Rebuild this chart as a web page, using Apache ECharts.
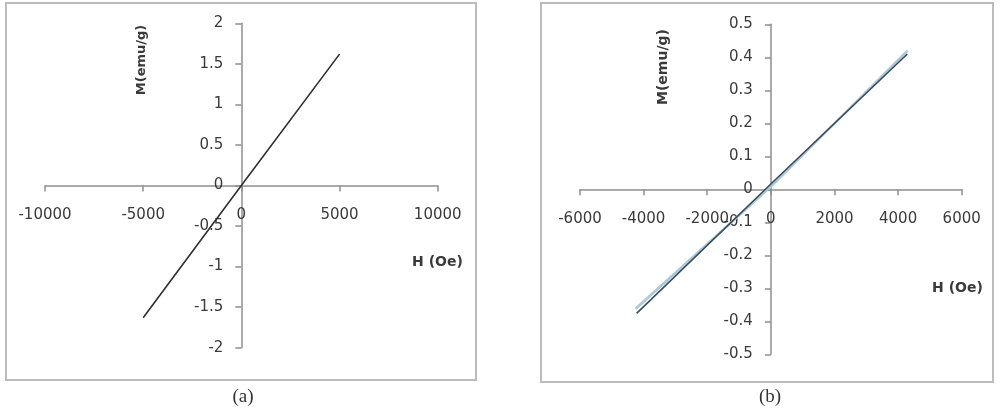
<!DOCTYPE html>
<html><head><meta charset="utf-8">
<script src="https://cdn.jsdelivr.net/npm/echarts@6/dist/echarts.min.js"></script>
<style>html,body{margin:0;padding:0;background:#fff}#c{width:1000px;height:412px}</style>
</head><body><div id="c"></div>
<script>
// Panel (a)
const aH = [-5000, 0, 5000];
const aM = [-1.63, 0.0, 1.62];
const aXTicks = [-10000, -5000, 0, 5000, 10000];
const aYTicks = [-2, -1.5, -1, -0.5, 0, 0.5, 1, 1.5, 2];
// Panel (b): two branches of the loop
const bH1 = [-4220, 0, 4290];
const bM1 = [-0.376, 0.016, 0.410];
const bH2 = [-4250, 0, 4300];
const bM2 = [-0.362, 0.008, 0.420];
const bXTicks = [-6000, -4000, -2000, 0, 2000, 4000, 6000];
const bYTicks = [-0.5, -0.4, -0.3, -0.2, -0.1, 0, 0.1, 0.2, 0.3, 0.4, 0.5];
const labels = {xName: 'H (Oe)', yName: 'M(emu/g)', capA: '(a)', capB: '(b)'};

const pair = (xs, ys) => xs.map((x, i) => [x, ys[i]]);
const axisCol = '#8f8f8f', txtCol = '#3a3a3a';
const font = 'DejaVu Sans';
const grids = [
  {left: 45, top: 23.3, width: 392.7, height: 324.4},
  {left: 580, top: 24.3, width: 381.7, height: 330}
];
// axes cross at zero; ranges are symmetric so zero sits at the grid centre
function xAxis(gi, ticks) {
  return {type: 'value', gridIndex: gi, position: 'bottom', offset: -grids[gi].height/2,
    min: ticks[0], max: ticks[ticks.length-1],
    interval: ticks[1]-ticks[0], splitLine: {show: false},
    axisLine: {onZero: false, lineStyle: {color: axisCol, width: 1.5}},
    axisTick: {show: true, length: 6, lineStyle: {color: axisCol, width: 1.5}},
    axisLabel: {margin: 22, color: txtCol, fontFamily: font, fontSize: 15, formatter: v => String(v)}};
}
function yAxis(gi, ticks) {
  return {type: 'value', gridIndex: gi, position: 'left', offset: -grids[gi].width/2,
    min: ticks[0], max: ticks[ticks.length-1],
    interval: ticks[1]-ticks[0], splitLine: {show: false},
    axisLine: {onZero: false, lineStyle: {color: axisCol, width: 1.5}},
    axisTick: {show: true, length: 6, lineStyle: {color: axisCol, width: 1.5}},
    axisLabel: {margin: 18, color: txtCol, fontFamily: font, fontSize: 15, formatter: v => String(+v.toFixed(1))}};
}
const chart = echarts.init(document.getElementById('c'), null, {renderer: 'canvas'});
chart.setOption({
  animation: false,
  backgroundColor: '#fff',
  grid: grids,
  xAxis: [xAxis(0, aXTicks), xAxis(1, bXTicks)],
  yAxis: [yAxis(0, aYTicks), yAxis(1, bYTicks)],
  series: [
    {type: 'line', xAxisIndex: 0, yAxisIndex: 0, data: pair(aH, aM), showSymbol: false,
      lineStyle: {color: '#2f2f2f', width: 1.6}},
    {type: 'line', xAxisIndex: 1, yAxisIndex: 1, data: pair(bH2, bM2), showSymbol: false,
      lineStyle: {color: '#a9c9dc', width: 2.6}},
    {type: 'line', xAxisIndex: 1, yAxisIndex: 1, data: pair(bH1, bM1), showSymbol: false,
      lineStyle: {color: '#3a4b5a', width: 1.6}}
  ],
  graphic: [
    {type: 'rect', shape: {x: 6, y: 3, width: 470, height: 377}, style: {fill: 'none', stroke: '#bcbcbc', lineWidth: 2}, silent: true},
    {type: 'rect', shape: {x: 541, y: 3, width: 452, height: 379}, style: {fill: 'none', stroke: '#bcbcbc', lineWidth: 2}, silent: true},
    {type: 'text', x: 141.5, y: 60, rotation: Math.PI/2, style: {text: labels.yName, fill: txtCol, font: 'bold 13px "DejaVu Sans"', align: 'center', verticalAlign: 'middle'}},
    {type: 'text', x: 663.5, y: 67, rotation: Math.PI/2, style: {text: labels.yName, fill: txtCol, font: 'bold 14px "DejaVu Sans"', align: 'center', verticalAlign: 'middle'}},
    {type: 'text', x: 437.5, y: 262, style: {text: labels.xName, fill: txtCol, font: 'bold 14px "DejaVu Sans"', align: 'center', verticalAlign: 'middle'}},
    {type: 'text', x: 957.5, y: 288, style: {text: labels.xName, fill: txtCol, font: 'bold 14px "DejaVu Sans"', align: 'center', verticalAlign: 'middle'}},
    {type: 'text', x: 243, y: 397, style: {text: labels.capA, fill: '#333', font: '19px "Liberation Serif"', align: 'center', verticalAlign: 'middle'}},
    {type: 'text', x: 770, y: 397, style: {text: labels.capB, fill: '#333', font: '19px "Liberation Serif"', align: 'center', verticalAlign: 'middle'}}
  ]
});
</script></body></html>
